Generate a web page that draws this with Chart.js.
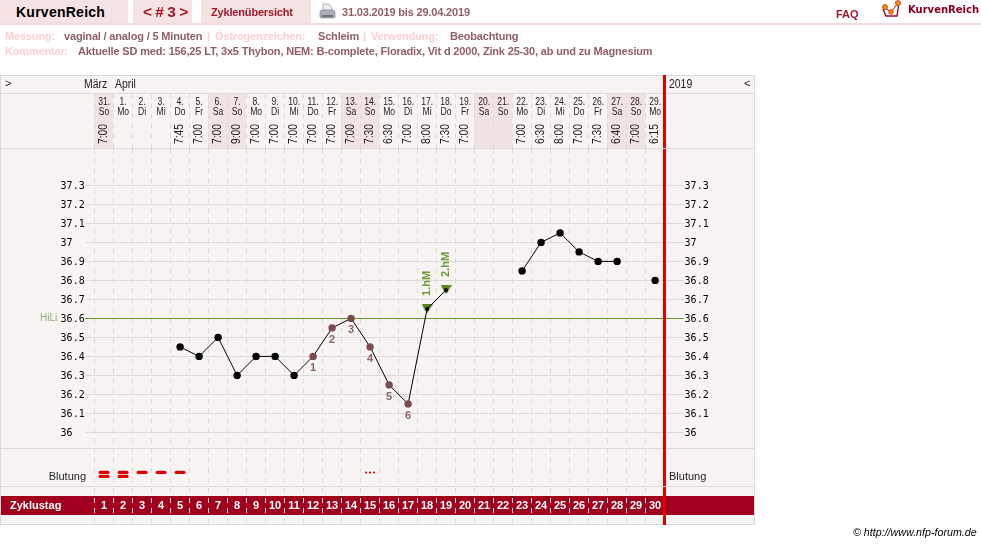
<!DOCTYPE html>
<html>
<head>
<meta charset="utf-8">
<title>KurvenReich</title>
<script src="https://cdn.jsdelivr.net/npm/chart.js@4"></script>
<style>
    html, body { margin: 0; padding: 0; background: #fff; }
    body { position: relative; width: 981px; height: 544px; overflow: hidden; font: bold 11px "Liberation Sans", Arial, sans-serif; }
    canvas { position: absolute; left: 0; top: 0; }
    .tab { position: absolute; top: 0; height: 23px; background: #f3e3e3; }
    .t { position: absolute; white-space: nowrap; line-height: 14px; letter-spacing: -.17px; }
    .label { color: #fbd0d0; }
    .val { color: #8f5f65; }
    .red { color: #a5182c; }
    #rule { position: absolute; left: 0; top: 23px; width: 981px; height: 2px; background: #f3dcdc; }
</style>
</head>
<body>
<canvas id="cycleChart" width="981" height="544"></canvas>

<div class="tab" style="left:0;width:128px"></div>
<div class="tab" style="left:133px;width:59px"></div>
<div class="tab" style="left:201px;width:110px"></div>
<div id="rule"></div>

<div class="t" style="left:16px;top:5px;font-size:14px;color:#000;letter-spacing:.25px">KurvenReich</div>
<div class="t red" style="left:143px;top:5px;font-size:15.5px;letter-spacing:0;word-spacing:-1px">&lt; # 3 &gt;</div>
<div class="t red" style="left:211px;top:5px">Zyklenübersicht</div>
<svg style="position:absolute;left:319px;top:3px" width="17" height="17" viewBox="0 0 17 17">
    <path d="M4 1h6l3 4v3H4z" fill="#e8edf2" stroke="#9aa3ad" stroke-width=".8"/>
    <path d="M1 9q0-2 2-2h10q3 0 3 2v5q0 1-2 1H3q-2 0-2-1z" fill="#a9aeb4" stroke="#7b8087" stroke-width=".6"/>
    <path d="M3 12h11v2H3z" fill="#6f747a"/>
</svg>
<div class="t val" style="left:342px;top:5px">31.03.2019 bis 29.04.2019</div>

<div class="t red" style="left:836px;top:7px;letter-spacing:0">FAQ</div>
<svg style="position:absolute;left:880px;top:0" width="24" height="20" viewBox="0 0 24 20">
    <path d="M2 9h-2M22 12h2" stroke="#eee"/>
    <path d="M3 9l3 7h11l2-14v0" fill="none" stroke="#9a0a2c" stroke-width="1.4"/>
    <path d="M5 8l6 4 8-10" fill="none" stroke="#9a0a2c" stroke-width="1"/>
    <circle cx="5" cy="7" r="2.6" fill="#f08a10" stroke="#b5301a" stroke-width=".6"/>
    <circle cx="11" cy="12" r="2.4" fill="#f08a10" stroke="#b5301a" stroke-width=".6"/>
    <circle cx="18" cy="3" r="2.6" fill="#f08a10" stroke="#b5301a" stroke-width=".6"/>
</svg>
<div class="t" style="left:908px;top:3px;font:bold 10px 'DejaVu Sans';line-height:14px;letter-spacing:0;color:#8b0020">KurvenReich</div>

<div class="t label" style="left:5px;top:29px">Messung:</div>
<div class="t val" style="left:64px;top:29px">vaginal / analog / 5 Minuten</div>
<div class="t label" style="left:207px;top:29px">|</div>
<div class="t label" style="left:215px;top:29px">Östrogenzeichen:</div>
<div class="t val" style="left:318px;top:29px">Schleim</div>
<div class="t label" style="left:363px;top:29px">|</div>
<div class="t label" style="left:371px;top:29px">Verwendung:</div>
<div class="t val" style="left:450px;top:29px">Beobachtung</div>
<div class="t label" style="left:5px;top:44px">Kommentar:</div>
<div class="t val" style="left:78px;top:44px">Aktuelle SD med: 156,25 LT, 3x5 Thybon, NEM: B-complete, Floradix, Vit d 2000, Zink 25-30, ab und zu Magnesium</div>

<div class="t" style="left:853px;top:525px;font:italic 10.7px 'Liberation Sans';line-height:14px;letter-spacing:0;color:#000">© http://www.nfp-forum.de</div>

<script>
// Zyklusdaten
const cycleDays = ['1','2','3','4','5','6','7','8','9','10','11','12','13','14','15','16','17','18','19','20','21','22','23','24','25','26','27','28','29','30'];
const dates = ['31.','1.','2.','3.','4.','5.','6.','7.','8.','9.','10.','11.','12.','13.','14.','15.','16.','17.','18.','19.','20.','21.','22.','23.','24.','25.','26.','27.','28.','29.'];
const weekdays = ['So','Mo','Di','Mi','Do','Fr','Sa','So','Mo','Di','Mi','Do','Fr','Sa','So','Mo','Di','Mi','Do','Fr','Sa','So','Mo','Di','Mi','Do','Fr','Sa','So','Mo'];
const times = ['7:00','','','','7:45','7:00','7:00','9:00','7:00','7:00','7:00','7:00','7:00','7:00','7:30','6:30','7:00','8:00','7:30','7:00','','','7:00','6:30','8:00','7:00','7:30','6:40','7:00','6:15'];
const temps = [null,null,null,null,36.45,36.4,36.5,36.3,36.4,36.4,36.3,36.4,36.55,36.6,36.45,36.25,36.15,36.65,36.75,null,null,null,36.85,37,37.05,36.95,36.9,36.9,null,36.8];
const lowLabels = ['','','','','','','','','','','','1','2','3','4','5','6','','','','','','','','','','','','',''];
const riseValues = [null,null,null,null,null,null,null,null,null,null,null,null,null,null,null,null,null,36.65,36.75,null,null,null,null,null,null,null,null,null,null,null];
const riseLabels = ['','','','','','','','','','','','','','','','','','1.hM','2.hM','','','','','','','','','','',''];
const bleeding = [2,2,1,1,1,0,0,0,0,0,0,0,0,0,-1,0,0,0,0,0,0,0,0,0,0,0,0,0,0,0];
const tempTicks = [36,36.1,36.2,36.3,36.4,36.5,36.6,36.7,36.8,36.9,37,37.1,37.2,37.3];
const coverLine = 36.6;

const gridColor = '#dadada';
const panelColor = '#f9f4f4';
const bandColor = '#a0001e';
const greenColor = '#5f9a2a';
const inkColor = '#222';
const sans = '"Liberation Sans", Arial, sans-serif';

// squeeze staucht die Schrift in Laufrichtung, wie in der Datumsleiste
function text(ctx, str, x, y, font, color, align, squeeze) {
    ctx.save();
    ctx.translate(x, y);
    ctx.scale(squeeze || 1, 1);
    ctx.font = font;
    ctx.fillStyle = color;
    ctx.textAlign = align || 'left';
    ctx.textBaseline = 'middle';
    ctx.fillText(str, 0, 0);
    ctx.restore();
}

// Markierung fuer die Hochlage, Spitze nach unten
function makeTriangle() {
    const c = document.createElement('canvas');
    c.width = 11;
    c.height = 9;
    const g = c.getContext('2d');
    g.fillStyle = '#55861f';
    g.beginPath();
    g.moveTo(0, 0);
    g.lineTo(11, 0);
    g.lineTo(5.5, 9);
    g.closePath();
    g.fill();
    return c;
}

// Kopfzeilen, Wochenenden und Zyklustag-Balken liegen unter dem Raster
const panelPlugin = {
    id: 'panel',
    beforeDraw(chart) {
        const ctx = chart.ctx;
        const x = chart.scales.x;
        ctx.save();
        ctx.fillStyle = panelColor;
        ctx.fillRect(0, 75, 755, 450);
        ctx.fillStyle = '#f2e3e3';
        weekdays.forEach((d, i) => {
            if (d === 'Sa' || d === 'So') ctx.fillRect(Math.floor(x.getPixelForValue(i) - 9.5), 94, 19, 54);
        });
        ctx.fillStyle = bandColor;
        ctx.fillRect(1, 496, 754, 19);
        ctx.strokeStyle = gridColor;
        ctx.lineWidth = 1;
        ctx.beginPath();
        [75.5, 93.5, 524.5].forEach(y => { ctx.moveTo(0, y); ctx.lineTo(755, y); });
        ctx.moveTo(0.5, 75); ctx.lineTo(0.5, 525);
        ctx.moveTo(754.5, 75); ctx.lineTo(754.5, 525);
        ctx.stroke();
        ctx.restore();
    },
    beforeDatasetsDraw(chart) {
        const ctx = chart.ctx;
        const x = chart.scales.x;
        const y = chart.scales.y;
        ctx.save();
        ctx.strokeStyle = gridColor;
        ctx.lineWidth = 1;
        ctx.beginPath();
        [148.5, 448.5, 486.5].forEach(py => { ctx.moveTo(0, py); ctx.lineTo(755, py); });
        ctx.stroke();

        // Hilfslinie
        const hy = Math.floor(y.getPixelForValue(coverLine)) + 0.5;
        ctx.strokeStyle = greenColor;
        ctx.beginPath();
        ctx.moveTo(85, hy);
        ctx.lineTo(x.right + 19, hy);
        ctx.stroke();
        ctx.restore();
    },
    afterDraw(chart) {
        const ctx = chart.ctx;
        const x = chart.scales.x;
        const y = chart.scales.y;
        ctx.save();

        // Datum, Wochentag und Messzeit je Spalte
        dates.forEach((d, i) => {
            const px = x.getPixelForValue(i);
            text(ctx, d, px, 102, '11px ' + sans, inkColor, 'center', 0.78);
            text(ctx, weekdays[i], px, 112, '11px ' + sans, inkColor, 'center', 0.78);
            if (times[i]) {
                ctx.save();
                ctx.translate(px, 134);
                ctx.rotate(-Math.PI / 2);
                text(ctx, times[i], 0, 0, '12px ' + sans, inkColor, 'center', 0.86);
                ctx.restore();
            }
        });

        text(ctx, '>', 5, 84, '11px ' + sans, inkColor);
        text(ctx, 'März', 84, 85, '12px ' + sans, inkColor, 'left', 0.87);
        text(ctx, 'April', 115, 85, '12px ' + sans, inkColor, 'left', 0.87);
        text(ctx, '2019', 669, 85, '12px ' + sans, inkColor, 'left', 0.87);
        text(ctx, '<', 744, 84, '11px ' + sans, inkColor);
        text(ctx, 'HiLi', 40, y.getPixelForValue(coverLine), '10px ' + sans, '#8fae70');
        text(ctx, 'Blutung', 86, 477, '11px ' + sans, '#222', 'right');
        text(ctx, 'Blutung', 669, 477, '11px ' + sans, '#222');
        text(ctx, 'Zyklustag', 10, 505.5, 'bold 11px ' + sans, '#fff');

        // Nummern der sechs Tieflagen und Hochlagen-Markierung
        temps.forEach((t, i) => {
            if (lowLabels[i]) {
                text(ctx, lowLabels[i], x.getPixelForValue(i), y.getPixelForValue(t) + 12, 'bold 11px ' + sans, '#8c6468', 'center');
            }
            if (riseLabels[i]) {
                ctx.save();
                ctx.translate(x.getPixelForValue(i), y.getPixelForValue(t) - 13);
                ctx.rotate(-Math.PI / 2);
                text(ctx, riseLabels[i], 0, 0, 'bold 11px ' + sans, '#6a9a3a');
                ctx.restore();
            }
        });

        // Blutung: zwei Balken, ein Balken oder Punkte
        ctx.fillStyle = '#dd0000';
        bleeding.forEach((b, i) => {
            const px = x.getPixelForValue(i);
            if (b > 0) {
                for (let k = 0; k < b; k++) {
                    ctx.beginPath();
                    ctx.roundRect(px - 5.5, 470.7 + k * 4, 11, 3.4, 1.7);
                    ctx.fill();
                }
            } else if (b < 0) {
                [-4, 0, 4].forEach(dx => {
                    ctx.beginPath();
                    ctx.arc(px + dx, 472.5, 1.1, 0, Math.PI * 2);
                    ctx.fill();
                });
            }
        });

        // Zyklusende
        const endX = Math.floor(x.right) - 1;
        ctx.fillStyle = '#e00000';
        ctx.fillRect(endX, 75, 3, 450);
        ctx.fillStyle = gridColor;
        [148, 486].forEach(py => ctx.fillRect(endX, py, 3, 1));
        ctx.restore();
    }
};

new Chart(document.getElementById('cycleChart'), {
    type: 'line',
    data: {
        labels: cycleDays,
        datasets: [
            {
                label: 'Temperatur',
                data: temps,
                order: 1,
                borderColor: '#000',
                borderWidth: 1,
                tension: 0,
                spanGaps: false,
                pointRadius: ctx => riseLabels[ctx.dataIndex] ? 2 : 3.7,
                pointBorderWidth: 0,
                pointBackgroundColor: ctx => lowLabels[ctx.dataIndex] ? '#7a4c50' : '#000'
            },
            {
                label: 'Hochlage',
                data: riseValues,
                order: 2,
                showLine: false,
                pointStyle: makeTriangle(),
                pointRadius: 6,
                pointBorderWidth: 0
            }
        ]
    },
    plugins: [panelPlugin],
    options: {
        responsive: false,
        animation: false,
        events: [],
        layout: { padding: { left: 60.6, top: 0, right: 0, bottom: 0 } },
        plugins: { legend: { display: false }, title: { display: false }, tooltip: { enabled: false } },
        scales: {
            x: {
                type: 'category',
                position: 'bottom',
                offset: true,
                afterFit(scale) { scale.height = 95.6; },
                border: { display: false, dash: [5, 5] },
                grid: { offset: true, color: gridColor, tickColor: gridColor, tickLength: 76, tickBorderDash: [5, 5] },
                ticks: {
                    autoSkip: false,
                    maxRotation: 0,
                    padding: -25,
                    color: '#fff',
                    font: { family: sans, size: 11, weight: 'bold' }
                }
            },
            xTop: {
                type: 'category',
                position: 'top',
                offset: true,
                labels: dates,
                afterFit(scale) { scale.height = 148.4; },
                border: { display: false },
                grid: { offset: true, drawOnChartArea: false, tickColor: gridColor, tickLength: 55, tickBorderDash: [5, 5] },
                ticks: { display: false }
            },
            y: {
                position: 'left',
                min: 35.9158,
                max: 37.4947,
                afterFit(scale) { scale.width = 34; },
                afterBuildTicks(scale) { scale.ticks = tempTicks.map(v => ({ value: v })); },
                border: { display: false },
                grid: { color: gridColor, tickColor: gridColor, tickLength: 9 },
                ticks: {
                    crossAlign: 'far',
                    padding: 1,
                    labelOffset: 1,
                    color: '#000',
                    callback: v => String(v),
                    font: { family: '"DejaVu Sans Mono", monospace', size: 10 }
                }
            },
            yRight: {
                position: 'right',
                min: 35.9158,
                max: 37.4947,
                afterFit(scale) { scale.width = 316.4; },
                afterBuildTicks(scale) { scale.ticks = tempTicks.map(v => ({ value: v })); },
                border: { display: false },
                grid: { drawOnChartArea: false, tickColor: gridColor, tickLength: 19 },
                ticks: {
                    padding: 1,
                    labelOffset: 1,
                    color: '#000',
                    callback: v => String(v),
                    font: { family: '"DejaVu Sans Mono", monospace', size: 10 }
                }
            }
        }
    }
});
</script>
</body>
</html>
